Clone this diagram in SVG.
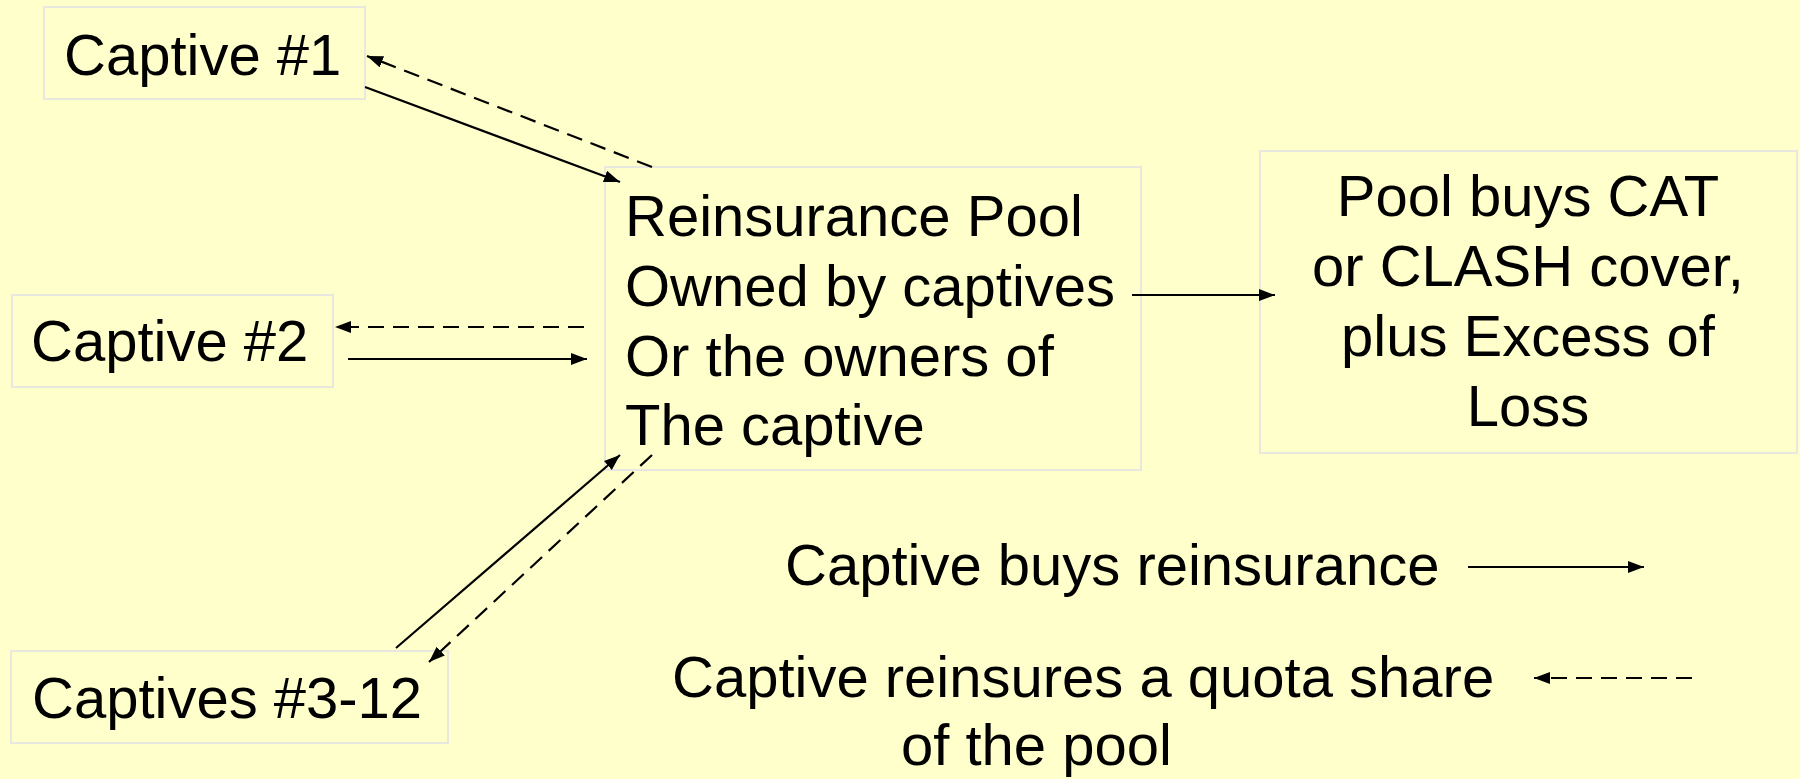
<svg xmlns="http://www.w3.org/2000/svg" width="1800" height="779" viewBox="0 0 1800 779">
<style>
.box{fill:#FFFFCC;stroke:#E8E8E0;stroke-width:2}
.t{font-family:"Liberation Sans",Arial,sans-serif;font-size:58px;fill:#000}
.c{stroke:#000;stroke-width:2.2;fill:none}
.d{stroke-dasharray:16 9}
</style>
<defs>
<marker id="ah" markerUnits="userSpaceOnUse" markerWidth="18" markerHeight="14" refX="16" refY="6" orient="auto">
<path d="M0,0 L16,6 L0,12 z" fill="#000"/>
</marker>
</defs>
<rect width="1800" height="779" fill="#FFFFCC"/>
<g id="captive1">
<rect class="box" x="44" y="7" width="321" height="92"/>
<text class="t" x="64" y="75">Captive #1</text>
</g>
<g id="captive2">
<rect class="box" x="12" y="295" width="321" height="92"/>
<text class="t" x="31" y="361">Captive #2</text>
</g>
<g id="captives3-12">
<rect class="box" x="11" y="651" width="437" height="92"/>
<text class="t" x="32" y="718">Captives #3-12</text>
</g>
<g id="pool">
<rect class="box" x="605" y="167" width="536" height="303"/>
<text class="t" x="625" y="236">Reinsurance Pool</text>
<text class="t" x="625" y="306">Owned by captives</text>
<text class="t" x="625" y="376">Or the owners of</text>
<text class="t" x="625" y="445">The captive</text>
</g>
<g id="cover">
<rect class="box" x="1260" y="151" width="537" height="302"/>
<text class="t" x="1528" y="216" text-anchor="middle">Pool buys CAT</text>
<text class="t" x="1528" y="286" text-anchor="middle">or CLASH cover,</text>
<text class="t" x="1528" y="356" text-anchor="middle">plus Excess of</text>
<text class="t" x="1528" y="426" text-anchor="middle">Loss</text>
</g>
<g id="legend">
<text class="t" x="785" y="585">Captive buys reinsurance</text>
<text class="t" x="672" y="697">Captive reinsures a quota share</text>
<text class="t" x="901" y="765">of the pool</text>
</g>
<g id="connectors">
<line class="c" x1="365" y1="87" x2="620" y2="182" marker-end="url(#ah)"/>
<line class="c d" x1="652" y1="167" x2="367" y2="56" marker-end="url(#ah)"/>
<line class="c d" x1="584" y1="327" x2="335" y2="327" marker-end="url(#ah)"/>
<line class="c" x1="348" y1="359" x2="587" y2="359" marker-end="url(#ah)"/>
<line class="c" x1="396" y1="648" x2="620" y2="455" marker-end="url(#ah)"/>
<line class="c d" x1="652" y1="455" x2="429" y2="662" marker-end="url(#ah)"/>
<line class="c" x1="1132" y1="295" x2="1275" y2="295" marker-end="url(#ah)"/>
<line class="c" x1="1468" y1="567" x2="1644" y2="567" marker-end="url(#ah)"/>
<line class="c d" x1="1692" y1="678" x2="1534" y2="678" marker-end="url(#ah)"/>
</g>
</svg>
